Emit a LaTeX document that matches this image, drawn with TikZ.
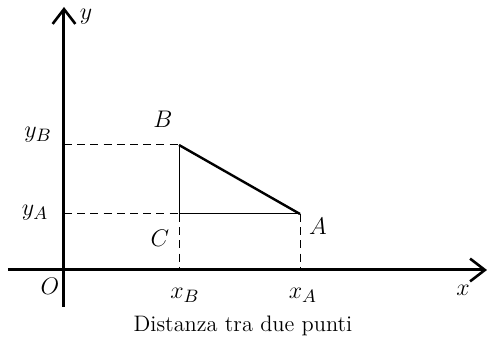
\documentclass[tikz,border=0pt]{standalone}
\usepackage{tikz}
\usetikzlibrary{arrows.meta}
\tikzset{
  axis/.style={line width=1.5pt, -{Straight Barb[length=2.6mm, width=4mm, line width=1.3pt]}},
  guide/.style={line width=0.5pt, dash pattern=on 4pt off 2.6pt},
  leg/.style={line width=0.5pt},
  seg/.style={line width=1.2pt},
  ptlbl/.style={font=\fontsize{13}{15}\selectfont, inner sep=1pt},
  axlbl/.style={font=\fontsize{13}{15}\selectfont, inner sep=1pt},
}

\begin{document}
\begin{tikzpicture}[x=0.5pt, y=0.5pt]
  \useasboundingbox (-64,-71) rectangle (423,270);
  % punti
  \coordinate (O) at (0,0);
  \coordinate (B) at (115,125);
  \coordinate (A) at (236,56);
  \coordinate (C) at (115,56);
  \coordinate (yb) at (0,125);
  \coordinate (ya) at (0,56);
  \coordinate (xb) at (115,0);
  \coordinate (xa) at (236,0);
  \coordinate (xs) at (-56,0);
  \coordinate (xe) at (423,0);
  \coordinate (ys) at (0,-37);
  \coordinate (ye) at (0,263);

  % assi
  \draw[axis] (xs) -- (xe);
  \draw[axis] (ys) -- (ye);

  % proiezioni
  \draw[guide] (yb) -- (B);
  \draw[guide] (ya) -- (C);
  \draw[guide] (C) -- (xb);
  \draw[guide] (A) -- (xa);
  \draw[leg] (B) -- (C) -- (A);
  \draw[seg] (B) -- (A);

  % etichette
  \node[axlbl] (ylab) at (22,253) {$y$};
  \node[axlbl] (xlab) at (399,-20) {$x$};
  \node[axlbl] (olab) at (-14,-16) {$O$};
  \node[axlbl] (yblab) at (-26,135) {$y_B$};
  \node[axlbl] (yalab) at (-29,57) {$y_A$};
  \node[axlbl] (xblab) at (121,-25) {$x_B$};
  \node[axlbl] (xalab) at (239,-25) {$x_A$};
  \node[ptlbl] (Blab) at (99,151) {$B$};
  \node[ptlbl] (Alab) at (254,44) {$A$};
  \node[ptlbl] (Clab) at (96,32) {$C$};
  \node[font=\fontsize{11.2}{13}\selectfont] (cap) at (179,-56) {Distanza tra due punti};
\end{tikzpicture}
\end{document}
